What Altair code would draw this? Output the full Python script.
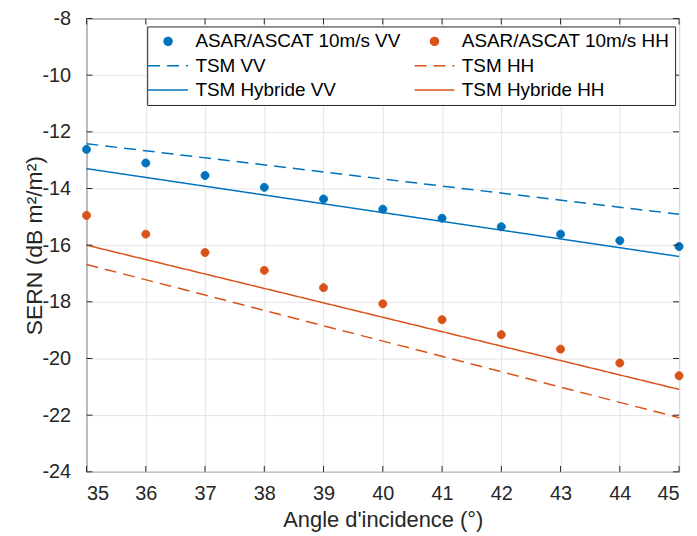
import altair as alt
import pandas as pd

# ---- data ----
angles = [35, 36, 37, 38, 39, 40, 41, 42, 43, 44, 45]
asar_vv = [-12.62, -13.10, -13.54, -13.96, -14.37, -14.73, -15.05, -15.35, -15.61, -15.84, -16.05]
asar_hh = [-14.95, -15.61, -16.26, -16.89, -17.50, -18.07, -18.63, -19.16, -19.67, -20.16, -20.61]
line_angles = [35, 45]
tsm_vv = [-12.42, -14.91]
tsm_hh = [-16.68, -22.09]
hyb_vv = [-13.30, -16.40]
hyb_hh = [-16.00, -21.09]

# legend order (column-major: VV column, then HH column)
names = ["ASAR/ASCAT 10m/s VV", "TSM VV", "TSM Hybride VV",
         "ASAR/ASCAT 10m/s HH", "TSM HH", "TSM Hybride HH"]
x_ticks = list(range(35, 46))
y_ticks = list(range(-24, -7, 2))

# ---- styles ----
BLUE, ORANGE = "#0072BD", "#D95319"
colors = [BLUE, BLUE, BLUE, ORANGE, ORANGE, ORANGE]
DASH = [12, 7]
SOLID = [1, 0]
dashes = [SOLID, DASH, SOLID, SOLID, DASH, SOLID]
circle = "M0.444,0A0.444,0.444,0,1,1,-0.444,0A0.444,0.444,0,1,1,0.444,0Z"
seg = "M-2.222,0L2.222,0"
shapes = [circle, seg, seg, circle, seg, seg]
AX = "#262626"
FONT = "Liberation Sans"
SYM = 324

pts = pd.concat([
    pd.DataFrame({"angle": angles, "sern": asar_vv, "series": names[0]}),
    pd.DataFrame({"angle": angles, "sern": asar_hh, "series": names[3]}),
])
xt = pd.DataFrame({"angle": x_ticks})
yt = pd.DataFrame({"sern": y_ticks})

W, H = 596, 456
xs = alt.Scale(domain=[35, 45], nice=False, zero=False)
ys = alt.Scale(domain=[-24, -8], nice=False, zero=False)

xaxis = alt.Axis(values=x_ticks, grid=True, ticks=False, domain=False,
                 labelFont=FONT, labelFontSize=20, labelColor=AX, labelPadding=12,
                 labelExpr="'' + datum.value",
                 title="Angle d'incidence (°)", titleFont=FONT, titleFontSize=22,
                 titleFontWeight="normal", titleColor=AX, titleY=55,
                 titleBaseline="alphabetic")
yaxis = alt.Axis(values=y_ticks, grid=True, ticks=False, domain=False,
                 labelFont=FONT, labelFontSize=20, labelColor=AX, labelPadding=16,
                 labelExpr="'' + datum.value",
                 title="SERN (dB m²/m²)", titleFont=FONT, titleFontSize=23,
                 titleFontWeight="normal", titleColor=AX, titleX=-45, titleY=H / 2,
                 titleAngle=270, titleBaseline="alphabetic", titleAlign="center")

leg = alt.Legend(title=None, orient="none", legendX=61, legendY=8, columns=2,
                 symbolSize=SYM, symbolStrokeWidth=1.5, symbolOpacity=1,
                 symbolOffset=6,
                 labelFont=FONT, labelFontSize=19, labelColor="#000000",
                 labelOffset=17.5, labelLimit=400, rowPadding=4.5, columnPadding=10,
                 padding=5, strokeColor=AX, fillColor="white", cornerRadius=0)

col_scale = alt.Scale(domain=names, range=colors)
dash_scale = alt.Scale(domain=names, range=dashes)
shape_scale = alt.Scale(domain=names, range=shapes)


def line_layer(vals, color, dash):
    df = pd.DataFrame({"angle": line_angles, "sern": vals})
    return alt.Chart(df).mark_line(strokeWidth=1.5, color=color, strokeDash=dash).encode(
        x=alt.X("angle:Q", scale=xs, axis=xaxis),
        y=alt.Y("sern:Q", scale=ys, axis=yaxis),
    )


point_layer = alt.Chart(pts).mark_point(filled=True, size=SYM, opacity=1, strokeWidth=1).encode(
    x=alt.X("angle:Q", scale=xs, axis=xaxis),
    y=alt.Y("sern:Q", scale=ys, axis=yaxis),
    fill=alt.Fill("series:N", scale=col_scale, legend=leg),
    stroke=alt.Stroke("series:N", scale=col_scale, legend=leg),
    shape=alt.Shape("series:N", scale=shape_scale, legend=leg),
    strokeDash=alt.StrokeDash("series:N", scale=dash_scale, legend=leg),
)

tk = dict(color=AX, strokeWidth=1)
xb = alt.Chart(xt).mark_rule(**tk).encode(x=alt.X("angle:Q", scale=xs, axis=xaxis), y=alt.value(H), y2=alt.value(H - 6))
xtop = alt.Chart(xt).mark_rule(**tk).encode(x=alt.X("angle:Q", scale=xs, axis=xaxis), y=alt.value(0), y2=alt.value(6))
yl = alt.Chart(yt).mark_rule(**tk).encode(y=alt.Y("sern:Q", scale=ys, axis=yaxis), x=alt.value(0), x2=alt.value(6))
yr = alt.Chart(yt).mark_rule(**tk).encode(y=alt.Y("sern:Q", scale=ys, axis=yaxis), x=alt.value(W), x2=alt.value(W - 6))

chart = alt.layer(
    line_layer(tsm_vv, BLUE, DASH),
    line_layer(tsm_hh, ORANGE, DASH),
    line_layer(hyb_vv, BLUE, SOLID),
    line_layer(hyb_hh, ORANGE, SOLID),
    point_layer, xb, xtop, yl, yr,
).properties(
    width=W, height=H,
    padding={"left": 79, "top": 9, "right": 10, "bottom": 63},
    autosize=alt.AutoSizeParams(type="none"),
    background="white",
).configure_view(stroke=AX, strokeWidth=1).configure_axis(gridColor="#e3e3e3", gridWidth=1)

chart.save("out.html", embed_options={"renderer": "svg", "actions": False})
